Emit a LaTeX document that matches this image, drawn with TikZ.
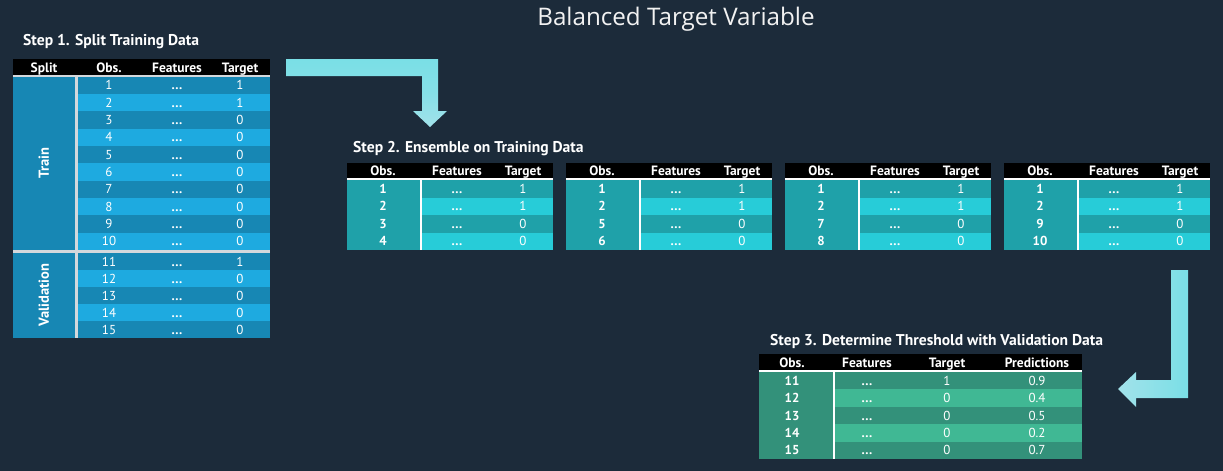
\documentclass[tikz,border=0pt]{standalone}
\usepackage{fontspec}
\setmainfont{PT Sans}
\newfontfamily\titlefont{Open Sans}
\definecolor{bg}{HTML}{1C2B3A}
\definecolor{dA}{HTML}{1787B4}
\definecolor{lA}{HTML}{1EAAE0}
\definecolor{dB}{HTML}{1FA1A9}
\definecolor{lB}{HTML}{27CCD8}
\definecolor{dC}{HTML}{33917A}
\definecolor{lC}{HTML}{40B894}
\definecolor{arrA}{HTML}{7ADFE6}
\definecolor{arrB}{HTML}{A2E2EA}
\definecolor{sepc}{HTML}{D4D8DC}
\newcommand\dotsx{\textbf{.\kern0.6pt.\kern0.6pt.}}
\tikzset{
  cell/.style={text=white,inner sep=0pt,text height=9pt,text depth=0pt,font=\fontsize{13}{13}\selectfont},
  bcell/.style={cell,font=\fontsize{13}{13}\selectfont\bfseries},
  head/.style={text=white,inner sep=0pt,text height=9pt,text depth=0pt,font=\fontsize{13.5}{13.5}\selectfont\bfseries},
  steptitle/.style={text=white,inner sep=0pt,anchor=west,font=\fontsize{15.6}{15.6}\selectfont\bfseries},
}
\begin{document}
\begin{tikzpicture}[x=1pt,y=-1pt]
\useasboundingbox (0,0) rectangle (1223,471);
\fill[bg] (0,0) rectangle (1223,471);
% title
\node[text=white!95!black,inner sep=0pt,font=\titlefont\fontsize{24.2}{24.2}\selectfont] (title) at (676,19) {Balanced Target Variable};
% ---------- Step 1 ----------
\node[steptitle] (s1) at (23,42) {Step 1. Split Training Data};
\fill[black] (13,59) rectangle (270,74.5);
\fill[sepc] (13,74.5) rectangle (270,76.5);
\node[head] (h1a) at (44,67.5) {Split};
\node[head] (h1b) at (109,67.5) {Obs.};
\node[head] (h1c) at (177,67.5) {Features};
\node[head] (h1d) at (240,67.5) {Target};
\fill[dA] (13,76.5) rectangle (75,250);
\fill[dA] (13,253) rectangle (75,338);
\foreach \n/\t in {1/1,2/1,3/0,4/0,5/0,6/0,7/0,8/0,9/0,10/0,11/1,12/0,13/0,14/0,15/0}{
  \ifnum\n<11
    \pgfmathsetmacro\ya{76.5+(\n-1)*17.35}\pgfmathsetmacro\yb{\ya+17.35}
  \else
    \pgfmathsetmacro\ya{253+(\n-11)*17}\pgfmathsetmacro\yb{\ya+17}
  \fi
  \pgfmathtruncatemacro\odd{mod(\n,2)}
  \ifnum\odd=1 \fill[dA] (77,\ya) rectangle (270,\yb);\else\fill[lA] (77,\ya) rectangle (270,\yb);\fi
  \node[cell] (a\n o) at (109,{(\ya+\yb)/2}) {\n};
  \node[cell] (a\n f) at (177,{(\ya+\yb)/2}) {\dotsx};
  \node[cell] (a\n t) at (240,{(\ya+\yb)/2}) {\t};
}
\fill[sepc] (75,74.5) rectangle (77.5,338);
\fill[sepc] (13,250) rectangle (270,253);
\node[head,rotate=90,text height=9.5pt,font=\fontsize{14.5}{14.5}\selectfont\bfseries] (train) at (44,163) {Train};
\node[head,rotate=90,text height=9.5pt,font=\fontsize{14.5}{14.5}\selectfont\bfseries] (valid) at (44,295) {Validation};
% arrow 1
\shade[top color=arrA,bottom color=arrB,middle color=arrA!70!arrB]
  (286,59) -- (438,59) -- (438,111) -- (447,111) -- (430,127) -- (413,111) -- (422,111) -- (422,76) -- (286,76) -- cycle;
\coordinate (arr1) at (430,127);
% ---------- Step 2 ----------
\node[steptitle] (s2) at (353,149) {Step 2. Ensemble on Training Data};
\foreach \j/\a/\b in {0/3/4,1/5/6,2/7/8,3/9/10}{
  \pgfmathsetmacro\x{347+219*\j}
  \fill[black] (\x,163) rectangle ({\x+206},178);
  \fill[white] (\x,178) rectangle ({\x+206},180);
  \node[head] (h2o\j) at ({\x+36},171) {Obs.};
  \node[head] (h2f\j) at ({\x+110},171) {Features};
  \node[head] (h2t\j) at ({\x+176},171) {Target};
  \fill[dB] (\x,180) rectangle ({\x+73},250);
  \foreach \n/\t [count=\i] in {1/1,2/1,\a/0,\b/0}{
    \pgfmathsetmacro\ya{180+(\i-1)*17.5}\pgfmathsetmacro\yb{\ya+17.5}
    \pgfmathtruncatemacro\odd{mod(\i,2)}
    \ifnum\odd=1 \fill[dB] ({\x+75},\ya) rectangle ({\x+206},\yb);\else\fill[lB] ({\x+75},\ya) rectangle ({\x+206},\yb);\fi
    \node[bcell] (b\j r\i o) at ({\x+36},{(\ya+\yb)/2}) {\n};
    \node[cell] (b\j r\i f) at ({\x+110},{(\ya+\yb)/2}) {\dotsx};
    \node[cell] (b\j r\i t) at ({\x+176},{(\ya+\yb)/2}) {\t};
  }
  \fill[white] ({\x+73},178) rectangle ({\x+75},250);
}
% arrow 2
\shade[left color=arrB,right color=arrA]
  (1171,270) -- (1188,270) -- (1188,398) -- (1136,398) -- (1136,407) -- (1118,389) -- (1136,372) -- (1136,380) -- (1171,380) -- cycle;
\coordinate (arr2) at (1118,389);
% ---------- Step 3 ----------
\node[steptitle] (s3) at (770,341) {Step 3. Determine Threshold with Validation Data};
\fill[black] (759,354) rectangle (1082,370);
\fill[white] (759,370) rectangle (1082,372);
\node[head] (h3o) at (792,362.5) {Obs.};
\node[head] (h3f) at (867,362.5) {Features};
\node[head] (h3t) at (947,362.5) {Target};
\node[head] (h3p) at (1037,362.5) {Predictions};
\fill[dC] (759,372) rectangle (833,459);
\foreach \n/\t/\p [count=\i] in {11/1/0.9,12/0/0.4,13/0/0.5,14/0/0.2,15/0/0.7}{
  \pgfmathsetmacro\ya{372+(\i-1)*17.4}\pgfmathsetmacro\yb{\ya+17.4}
  \pgfmathtruncatemacro\odd{mod(\i,2)}
  \ifnum\odd=1 \fill[dC] (835,\ya) rectangle (1082,\yb);\else\fill[lC] (835,\ya) rectangle (1082,\yb);\fi
  \node[bcell] (c\i o) at (792,{(\ya+\yb)/2}) {\n};
  \node[cell] (c\i f) at (867,{(\ya+\yb)/2}) {\dotsx};
  \node[cell] (c\i t) at (947,{(\ya+\yb)/2}) {\t};
  \node[cell] (c\i p) at (1037,{(\ya+\yb)/2}) {\p};
}
\fill[white] (833,370) rectangle (835,459);
\end{tikzpicture}
\end{document}
